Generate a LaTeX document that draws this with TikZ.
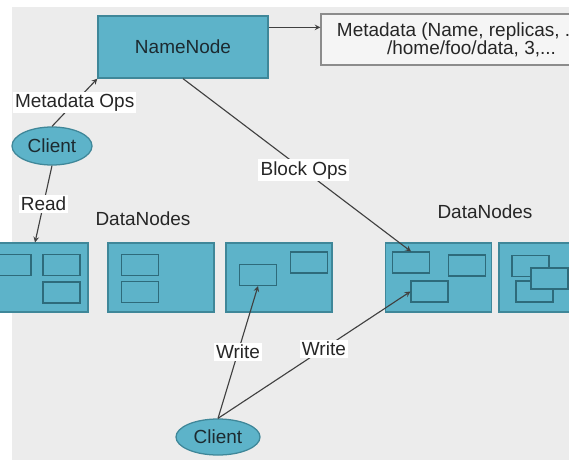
\documentclass[tikz,border=0pt]{standalone}
\usepackage{fontspec}
\setmainfont{Liberation Sans}
\usetikzlibrary{shapes.geometric,arrows}
\definecolor{hdfsblue}{HTML}{5DB3C9}
\definecolor{hdfsedge}{HTML}{3F8799}
\definecolor{blockedge}{HTML}{2E6B7B}
\definecolor{bggrey}{HTML}{ECECEC}
\definecolor{inktext}{HTML}{1C2A30}
\tikzset{
	defaultstyle/.style={
		>=stealth,
		x=0.025cm, y=-0.025cm,
		font=\fontsize{13.5}{13}\selectfont,
		text=inktext}}

\begin{document}
\begin{tikzpicture}[defaultstyle,
	every text node part/.style={align=center},
	serverbox/.style={draw=hdfsedge, fill=hdfsblue, line width=0.9pt, inner sep=0pt},
	datanode/.style={serverbox, minimum width=2.65cm, minimum height=1.72cm},
	blockbox/.style={draw=blockedge, fill=hdfsblue, line width=0.9pt, minimum width=0.92cm, minimum height=0.52cm, inner sep=0pt},
	client/.style={ellipse, draw=hdfsedge, fill=hdfsblue, line width=0.9pt, inner sep=0pt},
	opsline/.style={->, draw=black!75, line width=0.8pt},
	opslabel/.style={fill=white, inner sep=1.5pt, text=black!85},
	]
	\useasboundingbox (0,0) rectangle (569,460);
	\clip (0,0) rectangle (569,460);
	\fill[bggrey] (12,7) rectangle (569,460);
	
	\node[serverbox, minimum width=4.25cm, minimum height=1.55cm] (nn) at (183,47) {NameNode};
	\node[draw=black!45, fill=white!96!black, line width=0.8pt, minimum width=7.05cm, minimum height=1.275cm, inner sep=0pt, text=black!85] (meta) at (462,39.5) {Metadata (Name, replicas, ...)\\\hspace*{1em}/home/foo/data, 3,...};
	
	\node[client, minimum width=2cm, minimum height=0.95cm] (c1) at (52,146) {Client};
	\node[client, minimum width=2.1cm, minimum height=0.9cm] (c2) at (218,437) {Client};
	
	\node[text=black!85] (dnl) at (143,219) {DataNodes};
	\node[text=black!85] (dnr) at (485,212) {DataNodes};
	
	\node[datanode] (dn1) at (35,277.5) {};
	\node[datanode] (dn2) at (161,277.5) {};
	\node[datanode] (dn3) at (279,277.5) {};
	\node[datanode] (dn4) at (438.5,277.5) {};
	\node[datanode] (dn5) at (552,277.5) {};
	
	\node[blockbox] (b11) at (12.5,265) {};
	\node[blockbox] (b12) at (61.5,265) {};
	\node[blockbox] (b13) at (61.5,292.5) {};
	\node[blockbox] (b21) at (140,265) {};
	\node[blockbox] (b22) at (140,292) {};
	\node[blockbox] (b31) at (258,275) {};
	\node[blockbox] (b32) at (309,262.5) {};
	\node[blockbox] (b41) at (411,262.5) {};
	\node[blockbox] (b42) at (467,265.5) {};
	\node[blockbox] (b43) at (429.5,291.5) {};
	\node[blockbox] (b51) at (530.5,266) {};
	\node[blockbox] (b53) at (534.5,291.5) {};
	\node[blockbox] (b52) at (549.5,278.5) {};
	
	\draw[opsline] ([yshift=-0.3cm]nn.north east) -- ([yshift=-0.3cm]nn.north east -| meta.west);
	
	\draw[opsline] (c1.north) -- node[opslabel] {Metadata Ops} (nn.south west);
	\draw[opsline] (c1.south) -- node[opslabel] {Read} (dn1.north);
	\draw[opsline] (nn.south) -- node[opslabel, pos=0.53] {Block Ops} (b41.north);
	\draw[opsline] (c2.north) -- node[opslabel] {Write} (b31.south);
	\draw[opsline] (c2.north) -- node[opslabel, pos=0.55] {Write} (b43.west);
	
\end{tikzpicture}
\end{document}
